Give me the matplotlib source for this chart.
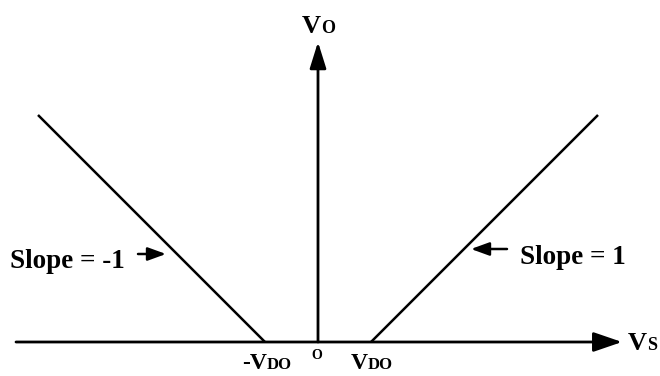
import matplotlib
matplotlib.use("Agg")
import matplotlib.pyplot as plt

# Diode-bridge transfer characteristic: Vo vs Vs with dead zone of width 2*V_DO
V_DO = 53
vs_left = [-280, -V_DO]
vo_left = [227, 0]
vs_right = [V_DO, 280]
vo_right = [0, 227]

FONT = "Liberation Serif"

fig = plt.figure(figsize=(6.6, 3.76), dpi=100)
ax = fig.add_axes([0, 0, 1, 1])
ax.set_xlim(-318, 342)
ax.set_ylim(-34, 342)
ax.axis("off")

# axes with arrowheads
ax.annotate("", xy=(304, 0), xytext=(-302, 0),
            arrowprops=dict(arrowstyle="-|>,head_length=1.75,head_width=0.6",
                            lw=2.0, color="black", shrinkA=0, shrinkB=0))
ax.annotate("", xy=(0, 300), xytext=(0, 0),
            arrowprops=dict(arrowstyle="-|>,head_length=1.6,head_width=0.5",
                            lw=2.0, color="black", shrinkA=0, shrinkB=0))

# characteristic branches
ax.plot(vs_left, vo_left, color="black", lw=1.8, solid_capstyle="butt")
ax.plot(vs_right, vo_right, color="black", lw=1.8, solid_capstyle="butt")


def label(x_split, y, big, small, big_size, small_size):
    ax.text(x_split, y, big, ha="right", va="baseline", family=FONT,
            fontweight="bold", fontsize=big_size)
    ax.text(x_split, y, small, ha="left", va="baseline", family=FONT,
            fontweight="bold", fontsize=small_size)


label(3, 309, "V", "O", 19, 13)
label(329, -8, "V", "S", 19, 13)
label(-51, -27, "-V", "DO", 17, 12)
label(50, -27, "V", "DO", 17, 12)
ax.text(-1, -17, "O", ha="center", va="baseline", family=FONT,
        fontweight="bold", fontsize=10)

# slope annotations
ax.text(-308, 74, "Slope = -1", ha="left", va="baseline", family=FONT,
        fontweight="bold", fontsize=19.5)
ax.annotate("", xy=(-152, 88), xytext=(-180, 88),
            arrowprops=dict(arrowstyle="-|>,head_length=1.1,head_width=0.4",
                            lw=1.8, color="black", shrinkA=0, shrinkB=0))
ax.text(202, 78, "Slope = 1", ha="left", va="baseline", family=FONT,
        fontweight="bold", fontsize=19.5)
ax.annotate("", xy=(153, 93), xytext=(189, 93),
            arrowprops=dict(arrowstyle="-|>,head_length=1.1,head_width=0.4",
                            lw=1.8, color="black", shrinkA=0, shrinkB=0))

fig.savefig("out.png", dpi=100, facecolor="white")
